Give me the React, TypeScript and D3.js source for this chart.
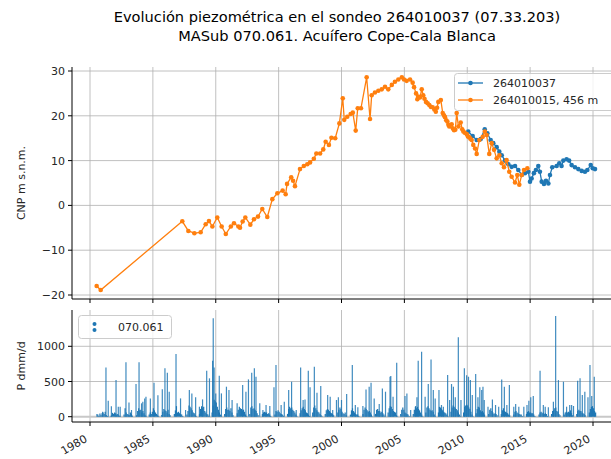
import React from "react";
import * as d3 from "d3";

const title1 = "Evolución piezométrica en el sondeo 264010037 (07.33.203)";
const title2 = "MASub 070.061. Acuífero Cope-Cala Blanca";
const yLabelTop = "CNP m s.n.m.";
const yLabelBottom = "P dmm/d";
const seriesNames = ["264010037", "264010015, 456 m"];
const precipName = "070.061";

const xTicks = [1980, 1985, 1990, 1995, 2000, 2005, 2010, 2015, 2020];
const yTicksTop = [-20, -10, 0, 10, 20, 30];
const yTicksBottom = [0, 500, 1000];

// 264010015 (orange)
const seriesB: [number, number][] = [
  [1980.53, -18.0], [1980.85, -18.9], [1987.34, -3.55], [1987.82, -5.7], [1988.3, -6.2], [1988.8, -6.0],
  [1989.2, -4.2], [1989.46, -3.5], [1989.73, -4.7], [1990.12, -2.7], [1990.47, -4.7], [1990.8, -6.4],
  [1991.2, -4.7], [1991.45, -4.0], [1991.8, -4.7], [1991.93, -5.0], [1992.14, -3.6], [1992.35, -2.7],
  [1992.75, -4.3], [1993.04, -3.1], [1993.36, -2.5], [1993.7, -0.8], [1994.1, -2.6], [1994.5, 1.4],
  [1994.9, 2.7], [1995.32, 3.3], [1995.56, 2.5], [1995.67, 4.8], [1996.0, 6.3], [1996.15, 5.5],
  [1996.3, 4.3], [1996.7, 8.1], [1997.0, 8.8], [1997.28, 9.2], [1997.5, 9.6], [1997.8, 10.4],
  [1998.0, 11.6], [1998.3, 11.6], [1998.55, 12.5], [1998.74, 14.2], [1999.0, 13.5], [1999.2, 15.1],
  [1999.5, 15.0], [1999.83, 18.3], [2000.1, 23.9], [2000.22, 19.1], [2000.46, 19.8], [2000.73, 20.4],
  [2000.9, 20.7], [2001.13, 16.7], [2001.29, 21.7], [2001.55, 21.7], [2002.0, 28.6], [2002.27, 19.3],
  [2002.4, 24.6], [2002.66, 25.2], [2002.93, 25.6], [2003.2, 25.9], [2003.46, 26.5], [2003.72, 25.9],
  [2004.0, 26.9], [2004.25, 27.6], [2004.52, 28.1], [2004.8, 28.6], [2004.97, 28.1], [2005.18, 27.8],
  [2005.45, 28.1], [2005.66, 27.4], [2005.77, 26.4], [2005.93, 25.0], [2006.03, 23.7], [2006.1, 24.3],
  [2006.24, 24.1], [2006.38, 25.9], [2006.5, 24.6], [2006.6, 23.8], [2006.72, 23.1], [2006.85, 22.8],
  [2006.98, 22.4], [2007.1, 22.0], [2007.25, 21.9], [2007.38, 21.4], [2007.5, 20.9], [2007.6, 21.8],
  [2007.7, 23.1], [2007.9, 23.5], [2008.05, 20.6], [2008.15, 20.1], [2008.23, 19.7], [2008.33, 19.0],
  [2008.42, 18.7], [2008.5, 18.0], [2008.57, 17.6], [2008.76, 18.1], [2008.85, 17.2], [2008.95, 16.8],
  [2009.05, 16.9], [2009.16, 20.6], [2009.3, 17.6], [2009.48, 18.5], [2009.6, 17.0], [2009.69, 16.5],
  [2009.8, 16.2], [2009.96, 15.9], [2010.05, 15.4], [2010.16, 15.2], [2010.25, 14.9], [2010.35, 14.6],
  [2010.48, 13.5], [2010.62, 12.7], [2010.75, 11.5], [2010.96, 14.6], [2011.23, 15.3], [2011.4, 16.5],
  [2011.54, 15.7], [2011.75, 11.5], [2011.94, 13.9], [2012.13, 12.4], [2012.34, 10.5], [2012.55, 11.2],
  [2012.74, 9.4], [2012.92, 8.5], [2013.13, 10.1], [2013.34, 7.5], [2013.53, 6.4], [2013.8, 5.1],
  [2013.98, 6.8], [2014.14, 4.6], [2014.33, 6.8], [2014.51, 7.9], [2014.78, 8.3],
];

// 264010037 (blue)
const seriesA: [number, number][] = [
  [2010.08, 16.5], [2010.43, 15.5], [2010.75, 14.6], [2011.07, 14.8], [2011.39, 17.0], [2011.6, 16.1],
  [2011.86, 14.6], [2012.07, 13.9], [2012.34, 13.0], [2012.55, 12.0], [2012.74, 11.2], [2013.0, 10.0],
  [2013.27, 9.2], [2013.53, 8.6], [2013.8, 8.8], [2014.06, 7.9], [2014.33, 6.8], [2014.59, 7.2],
  [2014.86, 7.5], [2014.99, 5.3], [2015.12, 6.0], [2015.3, 7.2], [2015.46, 7.9], [2015.65, 8.8],
  [2015.78, 7.5], [2015.92, 5.3], [2016.1, 4.8], [2016.26, 5.5], [2016.45, 4.9], [2016.58, 6.8],
  [2016.76, 8.5], [2017.11, 8.8], [2017.32, 9.4], [2017.5, 8.8], [2017.64, 10.0], [2017.9, 10.3],
  [2018.1, 10.0], [2018.3, 9.0], [2018.57, 8.5], [2018.83, 8.1], [2019.1, 7.7], [2019.36, 7.5],
  [2019.55, 7.9], [2019.82, 9.0], [2019.98, 8.3], [2020.16, 8.1],
];

// Precipitation: monthly typical daily values (Jan..Dec) per year, 1980..2020
const precipYears = d3.range(1980, 2021);
const precipMonthly: number[][] = [
  [0, 0, 0, 0, 0, 0, 0, 30, 10, 45, 20, 50],
  [60, 40, 70, 25, 10, 0, 0, 5, 20, 55, 40, 60],
  [50, 30, 40, 20, 10, 0, 0, 0, 30, 120, 60, 40],
  [30, 20, 60, 40, 15, 0, 0, 0, 20, 80, 120, 90],
  [100, 60, 80, 50, 20, 5, 0, 0, 30, 60, 40, 70],
  [120, 90, 60, 40, 20, 5, 0, 0, 25, 70, 110, 90],
  [80, 60, 100, 40, 20, 0, 0, 0, 40, 90, 150, 60],
  [70, 50, 40, 30, 10, 0, 0, 0, 30, 80, 160, 140],
  [120, 90, 60, 50, 20, 5, 0, 0, 40, 110, 150, 120],
  [140, 80, 60, 40, 30, 10, 0, 0, 60, 160, 240, 220],
  [200, 140, 100, 60, 30, 5, 0, 0, 40, 110, 130, 100],
  [100, 80, 120, 60, 20, 0, 0, 0, 50, 100, 140, 120],
  [110, 90, 100, 70, 30, 5, 0, 0, 40, 130, 150, 110],
  [120, 100, 80, 50, 20, 0, 0, 0, 40, 60, 70, 60],
  [60, 40, 50, 30, 10, 0, 0, 0, 30, 80, 70, 90],
  [70, 50, 40, 30, 15, 0, 0, 0, 40, 110, 140, 120],
  [130, 100, 80, 60, 30, 5, 0, 0, 50, 90, 120, 140],
  [110, 90, 60, 50, 30, 10, 0, 0, 60, 130, 160, 120],
  [90, 70, 60, 40, 20, 5, 0, 0, 40, 90, 110, 100],
  [80, 60, 50, 40, 20, 0, 0, 0, 60, 100, 130, 110],
  [70, 50, 40, 60, 20, 0, 0, 0, 30, 90, 120, 80],
  [60, 40, 30, 30, 10, 0, 0, 0, 40, 100, 130, 110],
  [90, 70, 80, 60, 30, 5, 0, 0, 40, 100, 110, 80],
  [80, 60, 70, 50, 30, 5, 0, 0, 60, 120, 150, 140],
  [110, 80, 70, 60, 20, 5, 0, 0, 40, 100, 130, 100],
  [60, 50, 40, 30, 10, 0, 0, 0, 40, 100, 140, 120],
  [140, 110, 90, 60, 30, 5, 0, 0, 60, 130, 150, 120],
  [100, 80, 90, 70, 30, 5, 0, 0, 60, 140, 130, 110],
  [90, 70, 60, 50, 30, 5, 0, 0, 70, 130, 160, 140],
  [120, 110, 90, 60, 30, 5, 0, 0, 60, 140, 160, 170],
  [160, 130, 110, 70, 30, 5, 0, 0, 50, 110, 140, 130],
  [90, 70, 80, 60, 30, 0, 0, 0, 40, 100, 120, 80],
  [60, 40, 50, 40, 20, 0, 0, 0, 40, 90, 120, 80],
  [70, 60, 50, 30, 20, 0, 0, 0, 30, 70, 80, 60],
  [50, 40, 30, 30, 10, 0, 0, 0, 40, 70, 80, 60],
  [60, 50, 50, 30, 10, 0, 0, 0, 30, 60, 70, 50],
  [60, 40, 50, 40, 10, 0, 0, 0, 40, 80, 90, 120],
  [130, 80, 70, 40, 20, 0, 0, 0, 30, 60, 70, 60],
  [70, 60, 90, 50, 20, 0, 0, 0, 40, 80, 100, 80],
  [80, 60, 50, 40, 20, 0, 0, 0, 60, 110, 140, 150],
  [120, 80, 60],
];

// Precipitation spikes (date, value)
const precipSpikes: [number, number][] = [
  [1980.55, 38], [1981.0, 70], [1981.27, 700], [1981.45, 227], [1981.7, 150], [1982.07, 520], [1982.25, 142],
  [1982.4, 142], [1982.86, 772], [1983.1, 200], [1983.3, 95], [1983.66, 464], [1983.9, 772], [1984.1, 190],
  [1984.2, 213], [1984.35, 260], [1984.45, 284], [1984.8, 260], [1985.09, 483], [1985.4, 305], [1985.75, 390],
  [1985.96, 687], [1986.15, 625], [1986.3, 355], [1986.84, 890], [1987.2, 260], [1987.6, 95], [1987.9, 379],
  [1988.1, 330], [1988.4, 275], [1988.7, 142], [1988.95, 246], [1989.28, 653], [1989.5, 545], [1989.75, 795],
  [1989.8, 1397], [1989.87, 700], [1990.0, 331], [1990.28, 580], [1990.45, 331], [1990.85, 426], [1991.05, 379],
  [1991.3, 237], [1991.7, 190], [1992.14, 450], [1992.4, 355], [1992.6, 530], [1992.86, 625], [1993.07, 687],
  [1993.2, 568], [1993.5, 190], [1993.75, 95], [1994.0, 166], [1994.3, 152], [1994.63, 417], [1994.79, 734],
  [1995.2, 166], [1995.45, 213], [1995.8, 379], [1996.03, 497], [1996.4, 95], [1996.75, 700], [1996.95, 237],
  [1997.1, 246], [1997.36, 653], [1997.5, 417], [1997.84, 710], [1998.05, 341], [1998.35, 436], [1998.9, 308],
  [1999.1, 284], [1999.3, 95], [1999.6, 237], [1999.75, 275], [2000.0, 237], [2000.41, 322], [2000.86, 734],
  [2001.1, 166], [2001.3, 133], [2001.7, 152], [2001.95, 388], [2002.2, 426], [2002.35, 483], [2002.6, 260],
  [2003.0, 180], [2003.25, 402], [2003.5, 355], [2003.86, 568], [2003.92, 578], [2004.1, 284], [2004.39, 767],
  [2005.05, 293], [2005.2, 331], [2005.5, 95], [2005.9, 152], [2006.0, 275], [2006.1, 795], [2006.37, 923],
  [2006.65, 284], [2006.9, 464], [2007.12, 814], [2007.3, 379], [2007.45, 260], [2007.75, 379], [2007.95, 166],
  [2008.1, 142], [2008.44, 592], [2008.6, 237], [2008.75, 464], [2008.9, 426], [2009.05, 275], [2009.29, 1127],
  [2009.5, 237], [2009.77, 687], [2009.95, 590], [2010.1, 568], [2010.25, 520], [2010.4, 308], [2010.67, 606],
  [2010.85, 275], [2011.0, 417], [2011.15, 379], [2011.25, 426], [2011.35, 237], [2011.65, 142], [2012.0, 246],
  [2012.25, 166], [2012.5, 142], [2012.74, 530], [2012.95, 426], [2013.15, 166], [2013.35, 450], [2013.7, 142],
  [2013.85, 180], [2014.1, 142], [2014.5, 142], [2014.75, 166], [2014.9, 227], [2015.05, 275], [2015.25, 293],
  [2015.79, 653], [2016.05, 166], [2016.2, 142], [2016.45, 133], [2016.85, 213], [2017.03, 1430], [2017.25, 520],
  [2017.65, 497], [2017.9, 142], [2018.15, 166], [2018.3, 166], [2018.45, 152], [2018.78, 510], [2018.97, 545],
  [2019.15, 308], [2019.35, 355], [2019.6, 275], [2019.76, 734], [2019.9, 293], [2020.1, 568],
];

const W = 611;
const H = 459;
const L = 72;
const R = 625;
const topT = 67;
const botT = 299;
const topB = 310;
const botB = 422;

const FONT = "DejaVu Sans, sans-serif";
const BLUE = "#1f77b4";
const ORANGE = "#ff7f0e";
const GRID = "#b0b0b0";
const TXT = "#262626";
const LW = 1.3;
const MR = 2.3;

export default function App() {
  const x = d3.scaleLinear().domain([1980, 2020]).range([90, 593]);
  const yT = d3.scaleLinear().domain([-20, 30]).range([295, 71]);
  const yB = d3.scaleLinear().domain([0, 1000]).range([416.7, 346.3]);
  const line = d3
    .line<[number, number]>()
    .x((d) => x(d[0]))
    .y((d) => yT(d[1]));

  const monthlyBars: { t: number; v: number }[] = [];
  precipMonthly.forEach((row, i) => {
    row.forEach((v, m) => {
      if (v > 0) monthlyBars.push({ t: precipYears[i] + (m + 0.5) / 12, v });
    });
  });

  return (
    <svg
      width={W}
      height={H}
      style={{ position: "absolute", left: 0, top: 0, background: "#fff" }}
      fontFamily={FONT}
    >
      <defs>
        <clipPath id="clipT">
          <rect x={L} y={topT} width={R - L} height={botT - topT} />
        </clipPath>
        <clipPath id="clipB">
          <rect x={L} y={topB} width={R - L} height={botB - topB} />
        </clipPath>
      </defs>
      <rect x={0} y={0} width={W} height={H} fill="#fff" />

      {/* Title */}
      <text x={337} y={22.3} textAnchor="middle" fontSize={14.6} fill="#000">
        {title1}
      </text>
      <text x={337} y={40.5} textAnchor="middle" fontSize={14.6} fill="#000">
        {title2}
      </text>

      {/* Top axes grid */}
      {xTicks.map((t) => (
        <line key={"gvt" + t} x1={x(t)} x2={x(t)} y1={topT} y2={botT} stroke={GRID} strokeWidth={0.8} />
      ))}
      {yTicksTop.map((t) => (
        <line key={"ght" + t} x1={L} x2={R} y1={yT(t)} y2={yT(t)} stroke={GRID} strokeWidth={0.8} />
      ))}

      {/* Top series */}
      <g clipPath="url(#clipT)">
        <path d={line(seriesA) || ""} fill="none" stroke={BLUE} strokeWidth={LW} />
        {seriesA.map((d, i) => (
          <circle key={"a" + i} cx={x(d[0])} cy={yT(d[1])} r={MR} fill={BLUE} />
        ))}
        <path d={line(seriesB) || ""} fill="none" stroke={ORANGE} strokeWidth={LW} />
        {seriesB.map((d, i) => (
          <circle key={"b" + i} cx={x(d[0])} cy={yT(d[1])} r={MR} fill={ORANGE} />
        ))}
      </g>

      {/* Top spines */}
      <line x1={L} x2={L} y1={topT} y2={botT} stroke="#000" strokeWidth={1} />
      <line x1={L} x2={R} y1={botT} y2={botT} stroke="#000" strokeWidth={1} />
      {yTicksTop.map((t) => (
        <g key={"ytt" + t}>
          <line x1={L - 4} x2={L} y1={yT(t)} y2={yT(t)} stroke="#000" strokeWidth={1} />
          <text x={L - 7} y={yT(t) + 4} textAnchor="end" fontSize={11} fill={TXT}>
            {t < 0 ? "\u2212" + Math.abs(t) : String(t)}
          </text>
        </g>
      ))}
      {xTicks.map((t) => (
        <line key={"xtt" + t} x1={x(t)} x2={x(t)} y1={botT} y2={botT + 4} stroke="#000" strokeWidth={1} />
      ))}
      <text
        transform={`translate(25,${(topT + botT) / 2}) rotate(-90)`}
        textAnchor="middle"
        fontSize={11}
        fill={TXT}
      >
        {yLabelTop}
      </text>

      {/* Top legend */}
      <g>
        <rect x={454.5} y={73.5} width={170} height={37} rx={3} fill="#fff" fillOpacity={0.8} stroke="#cccccc" />
        <line x1={458} x2={483} y1={83} y2={83} stroke={BLUE} strokeWidth={LW} />
        <circle cx={470.5} cy={83} r={MR} fill={BLUE} />
        <text x={493} y={87} fontSize={11} fill={TXT}>
          {seriesNames[0]}
        </text>
        <line x1={458} x2={483} y1={100} y2={100} stroke={ORANGE} strokeWidth={LW} />
        <circle cx={470.5} cy={100} r={MR} fill={ORANGE} />
        <text x={493} y={104} fontSize={11} fill={TXT}>
          {seriesNames[1]}
        </text>
      </g>

      {/* Bottom axes grid */}
      {xTicks.map((t) => (
        <line key={"gvb" + t} x1={x(t)} x2={x(t)} y1={topB} y2={botB} stroke={GRID} strokeWidth={0.8} />
      ))}
      {yTicksBottom.map((t) => (
        <line
          key={"ghb" + t}
          x1={L}
          x2={R}
          y1={yB(t)}
          y2={yB(t)}
          stroke={t === 0 ? "#c8c8c8" : GRID}
          strokeWidth={t === 0 ? 2 : 0.8}
        />
      ))}

      {/* Precip bars */}
      <g clipPath="url(#clipB)">
        {monthlyBars.map((b, i) => (
          <line
            key={"m" + i}
            x1={x(b.t)}
            x2={x(b.t)}
            y1={yB(0)}
            y2={yB(b.v)}
            stroke={BLUE}
            strokeWidth={1.2}
            strokeOpacity={1}
          />
        ))}
        {precipSpikes.map((b, i) => (
          <line
            key={"s" + i}
            x1={x(b[0])}
            x2={x(b[0])}
            y1={yB(0)}
            y2={yB(b[1])}
            stroke={BLUE}
            strokeWidth={1.2}
            strokeOpacity={0.85}
          />
        ))}
      </g>

      {/* Bottom spines */}
      <line x1={L} x2={L} y1={topB} y2={botB} stroke="#000" strokeWidth={1} />
      <line x1={L} x2={R} y1={botB} y2={botB} stroke="#000" strokeWidth={1} />
      {yTicksBottom.map((t) => (
        <g key={"ytb" + t}>
          <line x1={L - 4} x2={L} y1={yB(t)} y2={yB(t)} stroke="#000" strokeWidth={1} />
          <text x={L - 7} y={yB(t) + 4} textAnchor="end" fontSize={11} fill={TXT}>
            {String(t)}
          </text>
        </g>
      ))}
      {xTicks.map((t) => (
        <g key={"xtb" + t}>
          <line x1={x(t)} x2={x(t)} y1={botB} y2={botB + 4} stroke="#000" strokeWidth={1} />
          <text
            transform={`translate(${x(t) - 2},${441}) rotate(-30)`}
            textAnchor="end"
            fontSize={11}
            fill={TXT}
          >
            {String(t)}
          </text>
        </g>
      ))}
      <text
        transform={`translate(25,${(topB + botB) / 2}) rotate(-90)`}
        textAnchor="middle"
        fontSize={11}
        fill={TXT}
      >
        {yLabelBottom}
      </text>

      {/* Bottom legend */}
      <g>
        <rect x={78.5} y={315.5} width={93} height={23} rx={3} fill="#fff" fillOpacity={0.8} stroke="#cccccc" />
        <circle cx={94.5} cy={324} r={2} fill={BLUE} />
        <circle cx={94.5} cy={330} r={2} fill={BLUE} />
        <text x={118} y={331} fontSize={11} fill={TXT}>
          {precipName}
        </text>
      </g>
    </svg>
  );
}
